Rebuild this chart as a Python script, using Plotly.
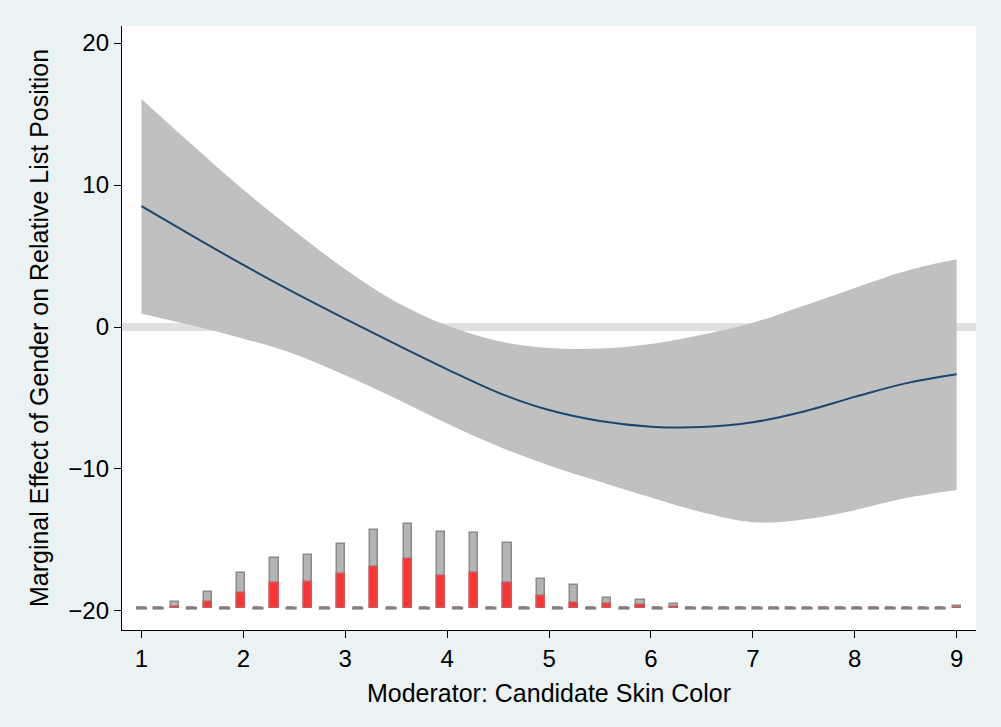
import plotly.graph_objects as go

# ---- data ----
mod_x = [1.0, 1.5, 2.0, 2.5, 3.0, 3.5, 4.0, 4.5, 5.0, 5.5, 6.0, 6.5, 7.0, 7.5, 8.0, 8.5, 9.0]
effect = [8.52, 6.42, 4.37, 2.42, 0.57, -1.23, -2.98, -4.62, -5.85, -6.62, -7.02, -7.05, -6.71, -5.95, -4.92, -3.97, -3.33]
ci_upper = [16.06, 12.81, 9.66, 6.78, 4.06, 1.76, 0.10, -0.98, -1.48, -1.52, -1.20, -0.55, 0.30, 1.50, 2.75, 3.95, 4.77]
ci_lower = [0.96, 0.10, -0.82, -1.90, -3.40, -5.05, -6.80, -8.40, -9.75, -10.90, -12.00, -13.05, -13.75, -13.55, -12.90, -12.05, -11.48]

# histogram of the moderator (50 bins from 1 to 9), bar heights in axis units
bin_centers = [1.0, 1.163, 1.327, 1.490, 1.653, 1.816, 1.980, 2.143, 2.306, 2.469,
               2.633, 2.796, 2.959, 3.122, 3.286, 3.449, 3.612, 3.776, 3.939, 4.102,
               4.265, 4.429, 4.592, 4.755, 4.918, 5.082, 5.245, 5.408, 5.571, 5.735,
               5.898, 6.061, 6.224, 6.388, 6.551, 6.714, 6.878, 7.041, 7.204, 7.367,
               7.531, 7.694, 7.857, 8.020, 8.184, 8.347, 8.510, 8.673, 8.837, 9.0]
hist_total = [0, 0, 0.42, 0, 1.13, 0, 2.51, 0, 3.52, 0,
              3.73, 0, 4.51, 0, 5.51, 0, 5.94, 0, 5.35, 0,
              5.28, 0, 4.58, 0, 2.08, 0, 1.64, 0, 0.68, 0,
              0.58, 0, 0.32, 0, 0, 0, 0, 0, 0, 0,
              0, 0, 0, 0, 0, 0, 0, 0, 0, 0.16]
hist_treated = [0, 0, 0.11, 0, 0.42, 0, 1.06, 0, 1.76, 0,
                1.85, 0, 2.42, 0, 2.89, 0, 3.45, 0, 2.25, 0,
                2.46, 0, 1.76, 0, 0.87, 0, 0.39, 0, 0.32, 0,
                0.23, 0, 0.11, 0, 0, 0, 0, 0, 0, 0,
                0, 0, 0, 0, 0, 0, 0, 0, 0, 0]
hist_base = -19.8

x_ticks = [1, 2, 3, 4, 5, 6, 7, 8, 9]
y_ticks = [-20, -10, 0, 10, 20]
x_title = "Moderator: Candidate Skin Color"
y_title = "Marginal Effect of Gender on Relative List Position"

FONT = "Liberation Sans, Arial, sans-serif"
SPLINE = dict(shape="spline", smoothing=1.0)

fig = go.Figure()

# confidence band (lower bound, then upper bound filled down to it)
fig.add_trace(go.Scatter(
    x=mod_x, y=ci_lower, mode="lines",
    line=dict(width=0, color="#c0c0c0", **SPLINE),
    hoverinfo="skip", showlegend=False))
fig.add_trace(go.Scatter(
    x=mod_x, y=ci_upper, mode="lines", fill="tonexty", fillcolor="#c0c0c0",
    line=dict(width=0, color="#c0c0c0", **SPLINE),
    hoverinfo="skip", showlegend=False))

# marginal effect line
fig.add_trace(go.Scatter(
    x=mod_x, y=effect, mode="lines",
    line=dict(color="#1a476f", width=2, **SPLINE),
    showlegend=False))

# histogram: total
fig.add_trace(go.Bar(
    x=bin_centers, y=hist_total, base=hist_base, width=0.08,
    marker=dict(color="#b4b4b4", line=dict(color="#8a8a8a", width=1.5)),
    showlegend=False))
# histogram: treated subset
fig.add_trace(go.Bar(
    x=bin_centers, y=hist_treated, base=hist_base, width=0.08,
    marker=dict(color="#ff3333", line=dict(color="#c85a5a", width=1.5)),
    showlegend=False))
# empty bins drawn as flat dashes
empty_x = [c for c, t in zip(bin_centers, hist_total) if t == 0]
fig.add_trace(go.Scatter(
    x=empty_x, y=[hist_base] * len(empty_x), mode="markers",
    marker=dict(symbol="line-ew", size=8, line=dict(color="#808080", width=3)),
    showlegend=False, hoverinfo="skip"))

# reference line at zero
fig.add_shape(type="line", xref="paper", x0=0, x1=1, yref="y", y0=0, y1=0,
              line=dict(color="#e0e0e0", width=8), layer="below")

fig.update_layout(
    width=1001, height=727,
    margin=dict(l=122, r=25, t=26, b=97),
    paper_bgcolor="#eaf2f3", plot_bgcolor="#ffffff",
    barmode="overlay", bargap=0,
    font=dict(family=FONT, color="black", size=25),
    xaxis=dict(range=[0.809, 9.19], tickvals=x_ticks, ticks="outside", ticklen=7,
               tickwidth=1.2, tickcolor="black", showline=True, linecolor="black",
               linewidth=1.3, showgrid=False, zeroline=False,
               tickfont=dict(size=24),
               title=dict(text=x_title, font=dict(size=25), standoff=13)),
    yaxis=dict(range=[-21.34, 21.2], tickvals=y_ticks, ticks="outside", ticklen=7,
               tickwidth=1.2, tickcolor="black", showline=True, linecolor="black",
               linewidth=1.3, showgrid=False, zeroline=False,
               tickfont=dict(size=24),
               title=dict(text=y_title, font=dict(size=25), standoff=12)),
)

fig.write_html("out.html")
